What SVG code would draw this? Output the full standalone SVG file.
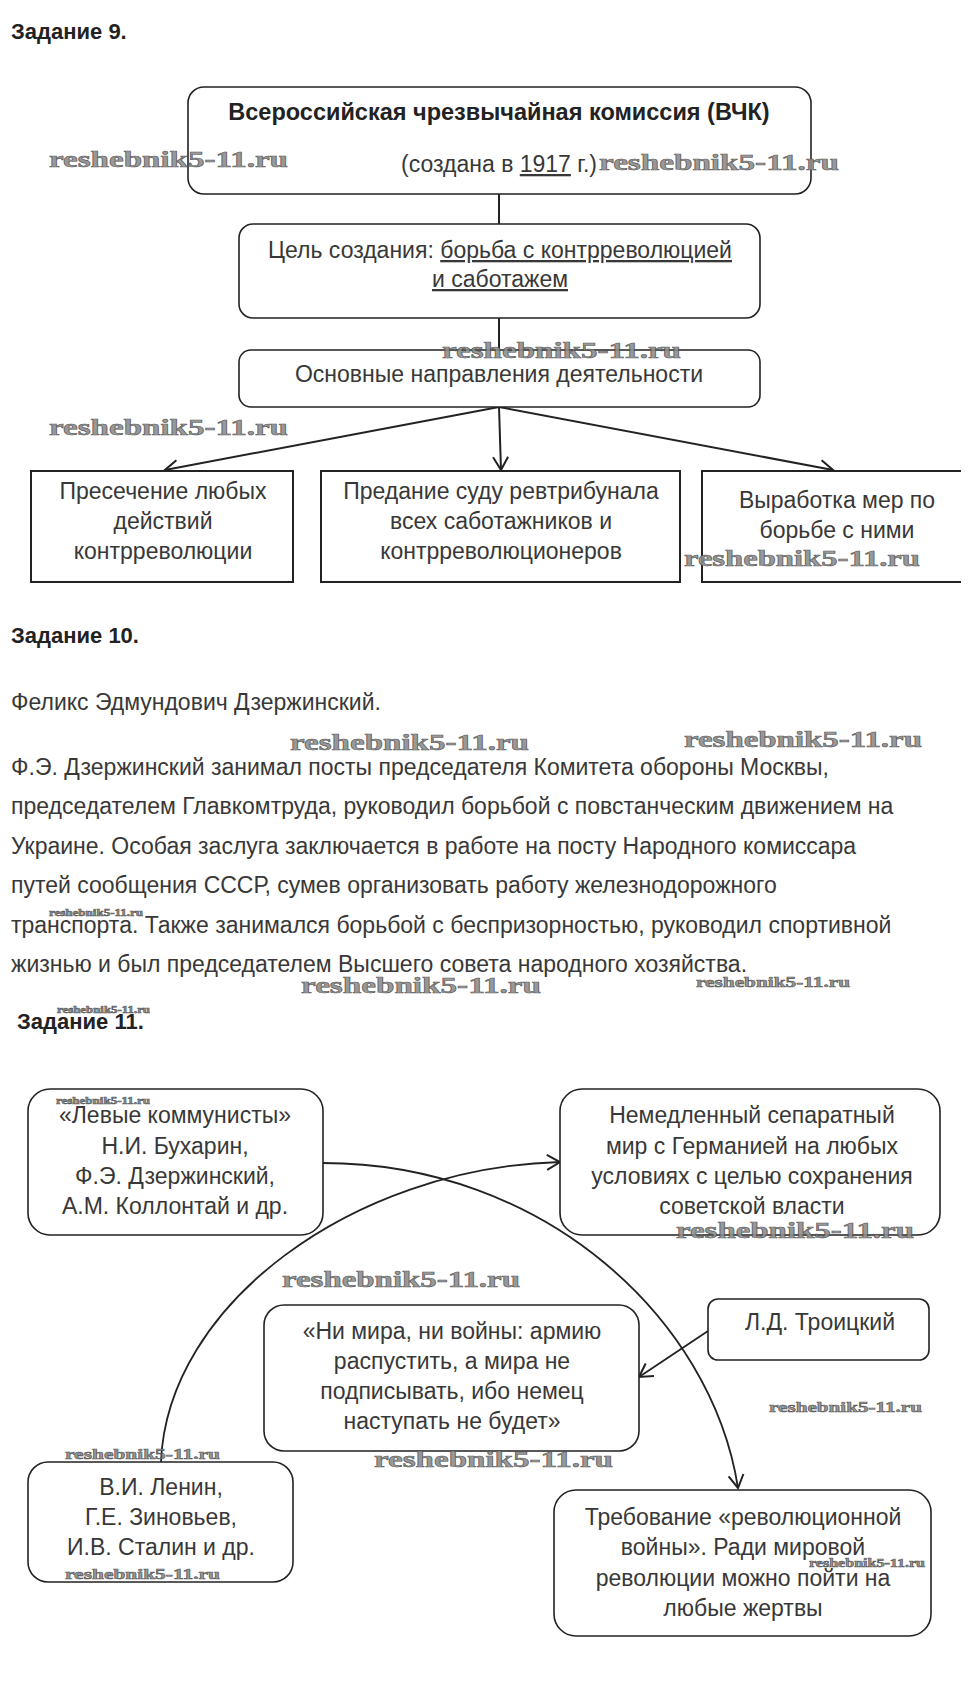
<svg xmlns="http://www.w3.org/2000/svg" width="973" height="1683" viewBox="0 0 973 1683">
<style>
  .bg { fill: #ffffff; }
  .h { font-family: "Liberation Sans", Arial, sans-serif; font-size: 22px; font-weight: bold; fill: #222; }
  .t { font-family: "Liberation Sans", Arial, sans-serif; font-size: 23px; fill: #383838; }
  .tc { font-family: "Liberation Sans", Arial, sans-serif; font-size: 23px; fill: #383838; text-anchor: middle; }
  .ttl { font-family: "Liberation Sans", Arial, sans-serif; font-size: 23.5px; font-weight: bold; fill: #222; text-anchor: middle; }
  .u { text-decoration: underline; }
  .rb { fill: #fff; stroke: #222; stroke-width: 1.6; }
  .sb { fill: #fff; stroke: #222; stroke-width: 2; }
  .ln { fill: none; stroke: #222; stroke-width: 2; }
  .cv { fill: none; stroke: #222; stroke-width: 1.8; }
  .wm { font-family: "Liberation Serif", "Times New Roman", serif; font-weight: bold; fill: #8e8e8e; stroke: #4a4a4a; stroke-width: 0.6; opacity: 0.9; }
</style>
<defs>
  <marker id="arr" viewBox="-16 -10 18 20" refX="0" refY="0" markerWidth="18" markerHeight="20" markerUnits="userSpaceOnUse" orient="auto">
    <path d="M-13,-7.5 L0,0 L-13,7.5" fill="none" stroke="#222" stroke-width="2"/>
  </marker>
</defs>
<rect class="bg" x="0" y="0" width="973" height="1683"/>

<!-- Headings and plain text -->
<g id="headings">
  <text class="h" x="11" y="39">Задание 9.</text>
  <text class="h" x="11" y="643">Задание 10.</text>
  <text class="h" x="17" y="1029">Задание 11.</text>
</g>
<g id="task10-text">
  <text class="t" x="11" y="710">Феликс Эдмундович Дзержинский.</text>
  <text class="t" x="11" y="775">Ф.Э. Дзержинский занимал посты председателя Комитета обороны Москвы,</text>
  <text class="t" x="11" y="814">председателем Главкомтруда, руководил борьбой с повстанческим движением на</text>
  <text class="t" x="11" y="854">Украине. Особая заслуга заключается в работе на посту Народного комиссара</text>
  <text class="t" x="11" y="893">путей сообщения СССР, сумев организовать работу железнодорожного</text>
  <text class="t" x="11" y="933">транспорта. Также занимался борьбой с беспризорностью, руководил спортивной</text>
  <text class="t" x="11" y="972">жизнью и был председателем Высшего совета народного хозяйства.</text>
</g>

<!-- Connectors -->
<g id="connectors">
  <line class="ln" x1="499" y1="194" x2="499" y2="224"/>
  <line class="ln" x1="499" y1="318" x2="499" y2="350"/>
  <line class="ln" x1="499" y1="407" x2="165" y2="470" marker-end="url(#arr)"/>
  <line class="ln" x1="499" y1="407" x2="501" y2="470" marker-end="url(#arr)"/>
  <line class="ln" x1="499" y1="407" x2="833" y2="470" marker-end="url(#arr)"/>
  <path class="cv" d="M161,1462 C167,1305 352,1168 560,1162" marker-end="url(#arr)"/>
  <path class="cv" d="M323,1163 C543,1163 711.6,1318 738,1488" marker-end="url(#arr)"/>
  <line class="cv" x1="708" y1="1331" x2="639" y2="1377" marker-end="url(#arr)"/>
</g>

<!-- Task 9 nodes -->
<g id="vchk">
  <rect class="rb" x="188" y="87" width="623" height="107" rx="16"/>
  <text class="ttl" x="499" y="120">Всероссийская чрезвычайная комиссия (ВЧК)</text>
  <text class="tc" x="499" y="172">(создана в <tspan class="u">1917</tspan> г.)</text>
</g>
<g id="goal">
  <rect class="rb" x="239" y="224" width="521" height="94" rx="14"/>
  <text class="tc" x="500" y="258">Цель создания: <tspan class="u">борьба с контрреволюцией</tspan></text>
  <text class="tc" x="500" y="287"><tspan class="u">и саботажем</tspan></text>
</g>
<g id="directions">
  <rect class="rb" x="239" y="350" width="521" height="57" rx="12"/>
  <text class="tc" x="499" y="382">Основные направления деятельности</text>
</g>
<g id="dir1">
  <rect class="sb" x="31" y="471" width="262" height="111"/>
  <text class="tc" x="163" y="499">Пресечение любых</text>
  <text class="tc" x="163" y="529">действий</text>
  <text class="tc" x="163" y="559">контрреволюции</text>
</g>
<g id="dir2">
  <rect class="sb" x="321" y="471" width="359" height="111"/>
  <text class="tc" x="501" y="499">Предание суду ревтрибунала</text>
  <text class="tc" x="501" y="529">всех саботажников и</text>
  <text class="tc" x="501" y="559">контрреволюционеров</text>
</g>
<g id="dir3">
  <path class="sb" d="M961,471 H702 V582 H961"/>
  <text class="tc" x="837" y="508">Выработка мер по</text>
  <text class="tc" x="837" y="538">борьбе с ними</text>
</g>

<!-- Task 11 nodes -->
<g id="left-communists">
  <rect class="rb" x="28" y="1089" width="295" height="146" rx="22"/>
  <text class="tc" x="175" y="1123">«Левые коммунисты»</text>
  <text class="tc" x="175" y="1154">Н.И. Бухарин,</text>
  <text class="tc" x="175" y="1184">Ф.Э. Дзержинский,</text>
  <text class="tc" x="175" y="1214">А.М. Коллонтай и др.</text>
</g>
<g id="separate-peace">
  <rect class="rb" x="560" y="1089" width="380" height="146" rx="22"/>
  <text class="tc" x="752" y="1123">Немедленный сепаратный</text>
  <text class="tc" x="752" y="1154">мир с Германией на любых</text>
  <text class="tc" x="752" y="1184">условиях с целью сохранения</text>
  <text class="tc" x="752" y="1214">советской власти</text>
</g>
<g id="trotsky">
  <rect class="rb" x="708" y="1299" width="221" height="61" rx="10"/>
  <text class="tc" x="820" y="1330">Л.Д. Троицкий</text>
</g>
<g id="no-peace">
  <rect class="rb" x="264" y="1305" width="375" height="146" rx="20"/>
  <text class="tc" x="452" y="1339">«Ни мира, ни войны: армию</text>
  <text class="tc" x="452" y="1369">распустить, а мира не</text>
  <text class="tc" x="452" y="1399">подписывать, ибо немец</text>
  <text class="tc" x="452" y="1429">наступать не будет»</text>
</g>
<g id="lenin">
  <rect class="rb" x="28" y="1462" width="265" height="120" rx="20"/>
  <text class="tc" x="161" y="1495">В.И. Ленин,</text>
  <text class="tc" x="161" y="1525">Г.Е. Зиновьев,</text>
  <text class="tc" x="161" y="1555">И.В. Сталин и др.</text>
</g>
<g id="revolutionary-war">
  <rect class="rb" x="554" y="1490" width="377" height="146" rx="22"/>
  <text class="tc" x="743" y="1525">Требование «революционной</text>
  <text class="tc" x="743" y="1555">войны». Ради мировой</text>
  <text class="tc" x="743" y="1586">революции можно пойти на</text>
  <text class="tc" x="743" y="1616">любые жертвы</text>
</g>

<!-- Watermarks -->
<g id="watermarks">
  <text class="wm" x="49" y="167" font-size="23" textLength="239" lengthAdjust="spacingAndGlyphs">reshebnik5-11.ru</text>
  <text class="wm" x="599" y="170" font-size="23" textLength="240" lengthAdjust="spacingAndGlyphs">reshebnik5-11.ru</text>
  <text class="wm" x="442" y="358" font-size="23" textLength="239" lengthAdjust="spacingAndGlyphs">reshebnik5-11.ru</text>
  <text class="wm" x="49" y="435" font-size="23" textLength="239" lengthAdjust="spacingAndGlyphs">reshebnik5-11.ru</text>
  <text class="wm" x="684" y="566" font-size="23" textLength="236" lengthAdjust="spacingAndGlyphs">reshebnik5-11.ru</text>
  <text class="wm" x="290" y="750" font-size="23" textLength="239" lengthAdjust="spacingAndGlyphs">reshebnik5-11.ru</text>
  <text class="wm" x="684" y="747" font-size="23" textLength="238" lengthAdjust="spacingAndGlyphs">reshebnik5-11.ru</text>
  <text class="wm" x="49" y="916" font-size="10" stroke-width="0.2" textLength="94" lengthAdjust="spacingAndGlyphs">reshebnik5-11.ru</text>
  <text class="wm" x="301" y="993" font-size="23" textLength="240" lengthAdjust="spacingAndGlyphs">reshebnik5-11.ru</text>
  <text class="wm" x="696" y="987" font-size="15" stroke-width="0.4" textLength="154" lengthAdjust="spacingAndGlyphs">reshebnik5-11.ru</text>
  <text class="wm" x="57" y="1013" font-size="10" stroke-width="0.2" textLength="93" lengthAdjust="spacingAndGlyphs">reshebnik5-11.ru</text>
  <text class="wm" x="56" y="1104" font-size="10" stroke-width="0.2" textLength="94" lengthAdjust="spacingAndGlyphs">reshebnik5-11.ru</text>
  <text class="wm" x="676" y="1238" font-size="23" textLength="238" lengthAdjust="spacingAndGlyphs">reshebnik5-11.ru</text>
  <text class="wm" x="282" y="1287" font-size="23" textLength="238" lengthAdjust="spacingAndGlyphs">reshebnik5-11.ru</text>
  <text class="wm" x="769" y="1412" font-size="15" stroke-width="0.4" textLength="153" lengthAdjust="spacingAndGlyphs">reshebnik5-11.ru</text>
  <text class="wm" x="65" y="1459" font-size="15" stroke-width="0.4" textLength="155" lengthAdjust="spacingAndGlyphs">reshebnik5-11.ru</text>
  <text class="wm" x="374" y="1467" font-size="23" textLength="239" lengthAdjust="spacingAndGlyphs">reshebnik5-11.ru</text>
  <text class="wm" x="809" y="1567" font-size="12" stroke-width="0.3" textLength="116" lengthAdjust="spacingAndGlyphs">reshebnik5-11.ru</text>
  <text class="wm" x="65" y="1579" font-size="15" stroke-width="0.4" textLength="155" lengthAdjust="spacingAndGlyphs">reshebnik5-11.ru</text>
</g>
</svg>
